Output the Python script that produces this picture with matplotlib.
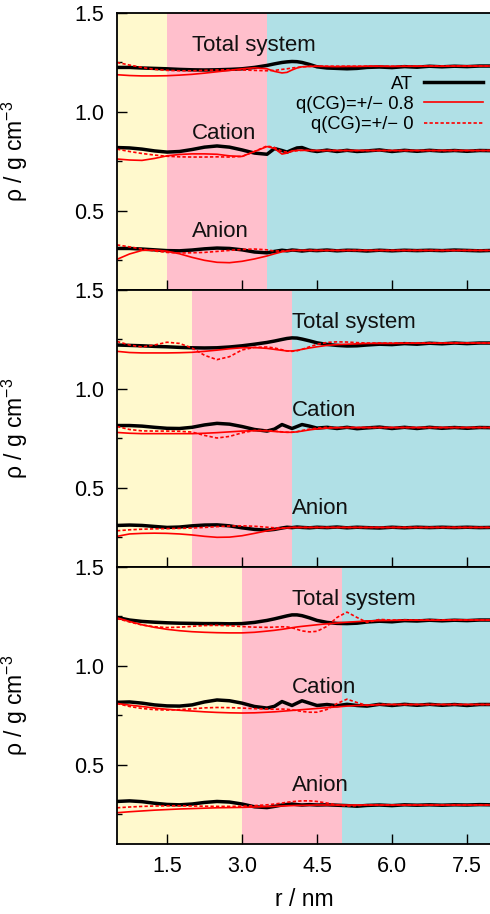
import numpy as np
import matplotlib
matplotlib.use("Agg")
import matplotlib.pyplot as plt
from matplotlib.ticker import MultipleLocator, FormatStrFormatter

plt.rcParams['font.family'] = ['Liberation Sans', 'DejaVu Sans']
plt.rcParams['mathtext.fontset'] = 'custom'
plt.rcParams['mathtext.rm'] = 'Liberation Sans'
plt.rcParams['mathtext.it'] = 'Liberation Sans:italic'

# radial grid (nm) shared by every curve
r = [0.5, 0.75, 1.0, 1.25, 1.5, 1.75, 2.0, 2.25, 2.5, 2.75, 3.0, 3.25, 3.5, 3.65,
     3.8, 3.9, 4.0, 4.1, 4.2, 4.35, 4.5, 4.7, 4.9, 5.1, 5.3, 5.5, 5.75, 6.0,
     6.25, 6.5, 6.75, 7.0, 7.25, 7.5, 7.75, 8.0]

# ---- panel 1 ----
p1_total_at = [1.225, 1.225, 1.222, 1.22, 1.218, 1.215, 1.213, 1.212, 1.213, 1.215, 1.218, 1.225, 1.235, 1.243,
               1.25, 1.253, 1.255, 1.254, 1.25, 1.24, 1.228, 1.222, 1.22, 1.218, 1.22, 1.225, 1.227, 1.224,
               1.229, 1.226, 1.231, 1.228, 1.231, 1.229, 1.232, 1.232]
p1_total_q08 = [1.188, 1.184, 1.182, 1.182, 1.183, 1.186, 1.19, 1.196, 1.203, 1.21, 1.218, 1.223, 1.218, 1.205,
                1.197, 1.2, 1.212, 1.222, 1.228, 1.23, 1.231, 1.23, 1.229, 1.23, 1.23, 1.231, 1.231, 1.23,
                1.231, 1.231, 1.232, 1.231, 1.232, 1.232, 1.232, 1.232]
p1_total_q0 = [1.25, 1.237, 1.225, 1.215, 1.21, 1.208, 1.208, 1.21, 1.212, 1.213, 1.212, 1.21, 1.208, 1.21,
               1.215, 1.218, 1.222, 1.225, 1.228, 1.23, 1.231, 1.231, 1.231, 1.231, 1.231, 1.231, 1.231, 1.231,
               1.231, 1.231, 1.232, 1.232, 1.232, 1.232, 1.232, 1.232]
p1_cation_at = [0.82, 0.818, 0.812, 0.803, 0.797, 0.8, 0.81, 0.822, 0.828, 0.822, 0.808, 0.792, 0.786, 0.815,
                0.805, 0.797, 0.808, 0.818, 0.82, 0.806, 0.8, 0.807, 0.8, 0.806, 0.8, 0.803, 0.808, 0.8,
                0.806, 0.801, 0.806, 0.802, 0.805, 0.801, 0.805, 0.804]
p1_cation_q08 = [0.762, 0.757, 0.755, 0.765, 0.778, 0.785, 0.788, 0.788, 0.786, 0.778, 0.775, 0.8, 0.825, 0.815,
                 0.787, 0.792, 0.803, 0.806, 0.806, 0.805, 0.805, 0.805, 0.805, 0.805, 0.805, 0.805, 0.805, 0.805,
                 0.805, 0.805, 0.805, 0.805, 0.805, 0.805, 0.805, 0.805]
p1_cation_q0 = [0.812, 0.8, 0.79, 0.782, 0.776, 0.773, 0.772, 0.772, 0.773, 0.772, 0.775, 0.8, 0.828, 0.82,
                0.8, 0.797, 0.8, 0.804, 0.806, 0.805, 0.805, 0.805, 0.805, 0.805, 0.805, 0.805, 0.805, 0.805,
                0.805, 0.805, 0.805, 0.805, 0.805, 0.805, 0.805, 0.805]
p1_anion_at = [0.31, 0.31, 0.307, 0.303, 0.299, 0.298, 0.302, 0.308, 0.312, 0.31, 0.303, 0.292, 0.288, 0.295,
               0.301, 0.298, 0.302, 0.3, 0.297, 0.301, 0.299, 0.302, 0.298, 0.301, 0.3, 0.297, 0.301, 0.298,
               0.301, 0.299, 0.301, 0.299, 0.302, 0.3, 0.298, 0.3]
p1_anion_q08 = [0.255, 0.282, 0.3, 0.302, 0.296, 0.283, 0.265, 0.25, 0.24, 0.238, 0.245, 0.257, 0.272, 0.283,
                0.293, 0.297, 0.3, 0.3, 0.3, 0.3, 0.3, 0.3, 0.3, 0.3, 0.3, 0.3, 0.3, 0.3,
                0.3, 0.3, 0.3, 0.3, 0.3, 0.3, 0.3, 0.3]
p1_anion_q0 = [0.328, 0.318, 0.307, 0.297, 0.29, 0.287, 0.288, 0.29, 0.295, 0.3, 0.305, 0.307, 0.303, 0.297,
               0.297, 0.299, 0.3, 0.3, 0.3, 0.3, 0.3, 0.3, 0.3, 0.3, 0.3, 0.3, 0.3, 0.3,
               0.3, 0.3, 0.3, 0.3, 0.3, 0.3, 0.3, 0.3]

# ---- panel 2 ----
p2_total_at = [1.222, 1.22, 1.218, 1.215, 1.213, 1.21, 1.208, 1.207, 1.208, 1.212, 1.218, 1.226, 1.235, 1.242,
               1.25, 1.255, 1.258, 1.257, 1.252, 1.243, 1.233, 1.225, 1.22, 1.217, 1.218, 1.222, 1.226, 1.224,
               1.229, 1.226, 1.231, 1.228, 1.232, 1.229, 1.232, 1.232]
p2_total_q08 = [1.19, 1.184, 1.182, 1.182, 1.182, 1.183, 1.185, 1.19, 1.196, 1.203, 1.208, 1.209, 1.205, 1.2,
                1.195, 1.192, 1.192, 1.195, 1.2, 1.207, 1.213, 1.22, 1.224, 1.226, 1.228, 1.23, 1.23, 1.23,
                1.231, 1.231, 1.231, 1.232, 1.232, 1.232, 1.232, 1.232]
p2_total_q0 = [1.24, 1.222, 1.212, 1.222, 1.236, 1.23, 1.207, 1.17, 1.148, 1.163, 1.197, 1.21, 1.212, 1.207,
               1.198, 1.192, 1.19, 1.193, 1.2, 1.213, 1.225, 1.235, 1.238, 1.237, 1.234, 1.232, 1.232, 1.232,
               1.232, 1.232, 1.232, 1.232, 1.232, 1.232, 1.232, 1.232]
p2_cation_at = [0.815, 0.815, 0.812, 0.806, 0.801, 0.8, 0.806, 0.818, 0.826, 0.822, 0.81, 0.795, 0.787, 0.797,
                0.82, 0.81, 0.8, 0.81, 0.82, 0.812, 0.802, 0.806, 0.8, 0.806, 0.799, 0.803, 0.807, 0.8,
                0.806, 0.8, 0.806, 0.801, 0.805, 0.801, 0.805, 0.804]
p2_cation_q08 = [0.78, 0.776, 0.774, 0.774, 0.774, 0.774, 0.774, 0.776, 0.779, 0.783, 0.787, 0.789, 0.788, 0.785,
                 0.782, 0.781, 0.781, 0.783, 0.787, 0.793, 0.798, 0.802, 0.804, 0.805, 0.805, 0.805, 0.805, 0.805,
                 0.805, 0.805, 0.805, 0.805, 0.805, 0.805, 0.805, 0.805]
p2_cation_q0 = [0.81, 0.795, 0.788, 0.787, 0.787, 0.786, 0.782, 0.765, 0.752, 0.76, 0.778, 0.79, 0.79, 0.787,
                0.783, 0.781, 0.781, 0.784, 0.79, 0.797, 0.802, 0.806, 0.805, 0.805, 0.805, 0.805, 0.805, 0.805,
                0.805, 0.805, 0.805, 0.805, 0.805, 0.805, 0.805, 0.805]
p2_anion_at = [0.31, 0.312, 0.31, 0.305, 0.3, 0.302, 0.308, 0.312, 0.313, 0.308, 0.298, 0.29, 0.286, 0.29,
               0.297, 0.301, 0.299, 0.302, 0.3, 0.298, 0.301, 0.299, 0.302, 0.298, 0.301, 0.299, 0.297, 0.301,
               0.298, 0.301, 0.299, 0.301, 0.299, 0.301, 0.299, 0.3]
p2_anion_q08 = [0.255, 0.267, 0.27, 0.271, 0.27, 0.267, 0.262, 0.255, 0.25, 0.251, 0.258, 0.27, 0.283, 0.29,
                0.296, 0.298, 0.3, 0.3, 0.3, 0.3, 0.3, 0.3, 0.3, 0.3, 0.3, 0.3, 0.3, 0.3,
                0.3, 0.3, 0.3, 0.3, 0.3, 0.3, 0.3, 0.3]
p2_anion_q0 = [0.283, 0.288, 0.291, 0.293, 0.294, 0.295, 0.297, 0.3, 0.304, 0.307, 0.308, 0.306, 0.301, 0.298,
               0.297, 0.298, 0.3, 0.3, 0.3, 0.3, 0.3, 0.3, 0.3, 0.3, 0.3, 0.3, 0.3, 0.3,
               0.3, 0.3, 0.3, 0.3, 0.3, 0.3, 0.3, 0.3]

# ---- panel 3 ----
p3_total_at = [1.245, 1.232, 1.225, 1.221, 1.218, 1.216, 1.215, 1.214, 1.214, 1.213, 1.214, 1.22, 1.23, 1.238,
               1.247, 1.253, 1.258, 1.258, 1.254, 1.243, 1.23, 1.22, 1.215, 1.214, 1.216, 1.222, 1.226, 1.223,
               1.229, 1.227, 1.231, 1.228, 1.231, 1.229, 1.232, 1.232]
p3_total_q08 = [1.243, 1.225, 1.208, 1.195, 1.185, 1.178, 1.173, 1.17, 1.168, 1.167, 1.167, 1.17, 1.176, 1.18,
                1.185, 1.189, 1.193, 1.197, 1.2, 1.204, 1.208, 1.213, 1.217, 1.221, 1.224, 1.227, 1.229, 1.23,
                1.231, 1.231, 1.231, 1.231, 1.232, 1.232, 1.232, 1.232]
p3_total_q0 = [1.24, 1.222, 1.207, 1.198, 1.194, 1.196, 1.2, 1.204, 1.205, 1.203, 1.199, 1.196, 1.195, 1.196,
               1.198, 1.197, 1.193, 1.185, 1.177, 1.172, 1.175, 1.2, 1.245, 1.272, 1.245, 1.22, 1.235, 1.232,
               1.232, 1.232, 1.232, 1.232, 1.232, 1.232, 1.232, 1.232]
p3_cation_at = [0.816, 0.818, 0.812, 0.803, 0.798, 0.797, 0.803, 0.818, 0.828, 0.824, 0.812, 0.795, 0.787, 0.796,
                0.82, 0.81, 0.8, 0.812, 0.824, 0.812, 0.8, 0.805, 0.799, 0.806, 0.8, 0.797, 0.806, 0.8,
                0.806, 0.801, 0.806, 0.801, 0.805, 0.8, 0.805, 0.805]
p3_cation_q08 = [0.81, 0.802, 0.795, 0.787, 0.781, 0.776, 0.772, 0.768, 0.765, 0.763, 0.762, 0.763, 0.766, 0.768,
                 0.771, 0.773, 0.775, 0.777, 0.779, 0.782, 0.785, 0.789, 0.793, 0.797, 0.8, 0.802, 0.804, 0.805,
                 0.805, 0.805, 0.805, 0.805, 0.805, 0.805, 0.805, 0.805]
p3_cation_q0 = [0.81, 0.795, 0.785, 0.779, 0.777, 0.779, 0.783, 0.788, 0.79, 0.789, 0.787, 0.784, 0.782, 0.781,
                0.782, 0.781, 0.778, 0.774, 0.77, 0.766, 0.766, 0.78, 0.81, 0.832, 0.815, 0.8, 0.806, 0.805,
                0.805, 0.805, 0.805, 0.805, 0.805, 0.805, 0.805, 0.805]
p3_anion_at = [0.315, 0.318, 0.314, 0.306, 0.3, 0.298, 0.302, 0.31, 0.315, 0.312, 0.302, 0.288, 0.284, 0.29,
               0.297, 0.3, 0.302, 0.299, 0.297, 0.299, 0.297, 0.298, 0.296, 0.294, 0.291, 0.295, 0.297, 0.294,
               0.298, 0.296, 0.298, 0.296, 0.298, 0.297, 0.299, 0.298]
p3_anion_q08 = [0.258, 0.263, 0.267, 0.271, 0.274, 0.277, 0.279, 0.281, 0.283, 0.284, 0.285, 0.287, 0.289, 0.29,
                0.292, 0.293, 0.294, 0.295, 0.295, 0.296, 0.297, 0.297, 0.297, 0.297, 0.297, 0.297, 0.297, 0.297,
                0.297, 0.297, 0.297, 0.297, 0.297, 0.297, 0.297, 0.297]
p3_anion_q0 = [0.283, 0.287, 0.29, 0.292, 0.293, 0.293, 0.292, 0.291, 0.29, 0.29, 0.291, 0.294, 0.298, 0.302,
               0.307, 0.311, 0.314, 0.316, 0.318, 0.318, 0.315, 0.307, 0.297, 0.292, 0.294, 0.298, 0.297, 0.297,
               0.297, 0.297, 0.297, 0.297, 0.297, 0.297, 0.297, 0.297]

# region borders (nm) for each panel: yellow | pink | blue
borders = [(1.5, 3.5), (2.0, 4.0), (3.0, 5.0)]
label_x = [2.0, 4.0, 4.0]
group_names = ["Total system", "Cation", "Anion"]
group_label_y = [1.31, 0.862, 0.366]

panels = [
    [(p1_total_at, p1_total_q08, p1_total_q0), (p1_cation_at, p1_cation_q08, p1_cation_q0),
     (p1_anion_at, p1_anion_q08, p1_anion_q0)],
    [(p2_total_at, p2_total_q08, p2_total_q0), (p2_cation_at, p2_cation_q08, p2_cation_q0),
     (p2_anion_at, p2_anion_q08, p2_anion_q0)],
    [(p3_total_at, p3_total_q08, p3_total_q0), (p3_cation_at, p3_cation_q08, p3_cation_q0),
     (p3_anion_at, p3_anion_q08, p3_anion_q0)],
]

YELLOW = "#fff9cd"
PINK = "#ffbfcc"
BLUE = "#b0e0e6"

fig = plt.figure(figsize=(4.9, 9.14), dpi=100)
top = 1 - 13 / 914
h = 277 / 914
left = 117 / 490
w = 375 / 490

for i, groups in enumerate(panels):
    ax = fig.add_axes([left, top - (i + 1) * h, w, h])
    b1, b2 = borders[i]
    ax.axvspan(0.5, b1, color=YELLOW, lw=0, zorder=0)
    ax.axvspan(b1, b2, color=PINK, lw=0, zorder=0)
    ax.axvspan(b2, 8.0, color=BLUE, lw=0, zorder=0)

    for at, q08, q0 in groups:
        ax.plot(r, at, color="black", lw=2.5, zorder=3, label="AT")
        ax.plot(r, q08, color="red", lw=1.2, zorder=4, label="q(CG)=+/\u2212 0.8")
        ax.plot(r, q0, color="red", lw=1.2, ls=(0, (2.0, 1.3)), zorder=4, label="q(CG)=+/\u2212 0")

    for name, yy in zip(group_names, group_label_y):
        ax.text(label_x[i], yy, name, fontsize=16, va="baseline", ha="left", color="#111111")

    ax.set_xlim(0.5, 8.0)
    ax.set_ylim(0.1, 1.5)
    ax.yaxis.set_major_locator(MultipleLocator(0.5))
    ax.yaxis.set_minor_locator(MultipleLocator(0.25))
    ax.yaxis.set_major_formatter(FormatStrFormatter("%.1f"))
    ax.xaxis.set_major_locator(MultipleLocator(1.5))
    ax.xaxis.set_major_formatter(FormatStrFormatter("%.1f"))
    ax.tick_params(axis="both", which="major", direction="in", length=7, width=1.0,
                   labelsize=15.5, pad=9)
    ax.tick_params(axis="y", which="minor", direction="in", length=3.5, width=1.0)
    ax.tick_params(axis="x", which="minor", length=0)
    for s in ax.spines.values():
        s.set_linewidth(1.3)
        s.set_zorder(6)
    ax.set_ylabel("\u03c1 / g cm$^{\u22123}$", fontsize=16.5)
    ax.yaxis.set_label_coords(-0.232, 0.5)

    if i < 2:
        ax.tick_params(axis="x", labelbottom=False)
    else:
        ax.set_xlabel("r / nm", fontsize=16.5)
        ax.xaxis.set_label_coords(0.5, -0.16)

    if i == 0:
        handles, labels = ax.get_legend_handles_labels()
        ax.legend(handles[:3], labels[:3], loc="upper right", bbox_to_anchor=(0.995, 0.80),
                  frameon=False, markerfirst=False, fontsize=13.2, handlelength=3.2,
                  labelspacing=0.17, borderaxespad=0, handletextpad=0.6)

fig.savefig("out.png", dpi=100)
